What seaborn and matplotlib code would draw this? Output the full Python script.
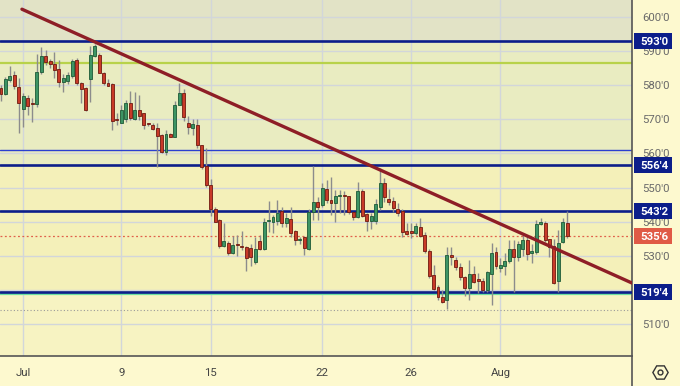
import matplotlib
matplotlib.use("Agg")
import matplotlib.pyplot as plt
from matplotlib.patches import Rectangle
import seaborn as sns
import numpy as np
import pandas as pd

# ---------------- data ----------------
opens = [579.3, 577.3, 581.5, 583.0, 579.6, 573.0, 576.2, 574.6, 574.4, 583.8,
         588.7, 587.1, 586.1, 584.7, 581.0, 581.3, 582.8, 587.4, 580.7, 579.3,
         581.7, 588.6, 588.9, 583.7, 580.8, 580.3, 569.9, 569.0, 570.0, 574.7,
         570.0, 572.7, 571.8, 568.6, 568.3, 567.4, 565.4, 560.5, 565.6, 564.9,
         574.2, 577.8, 569.0, 567.6, 568.3, 562.5, 556.3, 550.7, 543.6, 540.5,
         532.8, 533.8, 530.9, 533.2, 533.0, 532.6, 532.2, 528.2, 534.4, 532.0,
         540.2, 540.0, 540.3, 543.1, 539.5, 540.8, 537.3, 534.6, 535.4, 531.9,
         542.9, 545.8, 544.9, 549.5, 546.3, 545.5, 547.6, 547.6, 547.6, 542.9,
         541.4, 549.1, 542.1, 540.2, 540.2, 544.2, 551.4, 546.5, 546.1, 543.6,
         543.1, 537.3, 536.9, 536.8, 538.3, 536.1, 531.5, 524.5, 520.9, 518.0,
         517.0, 530.2, 528.7, 526.6, 523.9, 520.4, 524.6, 523.1, 522.7, 520.1,
         524.6, 531.2, 526.5, 527.1, 528.5, 532.0, 529.7, 531.9, 534.6, 530.7,
         531.2, 539.3, 539.7, 534.8, 532.8, 522.6, 534.1, 539.7]
highs = [580.0, 582.3, 585.7, 584.3, 582.2, 577.6, 577.1, 576.2, 589.1, 591.3,
         590.3, 587.7, 589.8, 587.4, 583.2, 584.0, 587.7, 588.1, 581.0, 579.4,
         591.5, 592.1, 589.5, 584.0, 581.8, 580.6, 571.8, 574.2, 575.7, 578.3,
         578.1, 577.1, 572.0, 569.0, 569.0, 569.0, 565.8, 566.9, 566.0, 575.5,
         580.6, 578.9, 571.0, 570.0, 570.0, 562.5, 561.5, 552.4, 544.3, 540.8,
         539.5, 534.2, 535.8, 536.1, 537.4, 532.8, 533.5, 535.6, 536.1, 541.0,
         546.1, 542.0, 546.3, 544.4, 542.5, 544.4, 537.5, 535.5, 535.8, 543.6,
         556.3, 547.3, 551.2, 552.2, 553.2, 549.3, 549.3, 549.0, 547.6, 542.9,
         551.7, 549.6, 542.4, 542.4, 546.6, 555.6, 552.7, 549.5, 547.3, 545.5,
         543.6, 539.5, 539.5, 539.5, 541.0, 537.0, 532.0, 527.3, 521.4, 520.1,
         532.6, 532.6, 529.6, 527.8, 524.1, 528.7, 526.9, 525.0, 523.5, 525.4,
         533.8, 532.5, 529.2, 530.7, 534.6, 534.6, 534.2, 536.2, 535.9, 533.4,
         540.5, 541.0, 540.3, 535.0, 535.0, 537.5, 541.0, 543.0]
lows = [575.4, 577.1, 581.0, 578.9, 565.9, 567.8, 571.3, 569.1, 573.7, 583.2,
        585.9, 585.0, 582.0, 579.6, 578.1, 580.3, 582.0, 580.1, 574.7, 572.5,
        575.2, 588.4, 583.5, 580.1, 579.7, 566.9, 568.3, 568.8, 569.3, 569.8,
        569.8, 569.8, 567.2, 568.0, 566.9, 556.1, 560.2, 559.5, 564.9, 564.9,
        574.2, 569.6, 565.7, 565.5, 561.7, 555.3, 550.2, 541.6, 539.8, 532.4,
        532.6, 530.2, 530.5, 529.9, 531.7, 525.5, 527.0, 527.5, 531.7, 531.7,
        537.0, 536.7, 539.0, 538.5, 538.5, 535.6, 533.1, 533.5, 530.2, 531.7,
        540.5, 540.5, 544.4, 545.4, 541.9, 540.0, 542.4, 542.0, 542.3, 540.5,
        541.0, 541.3, 537.2, 537.7, 539.4, 543.4, 545.8, 544.9, 542.9, 541.6,
        535.6, 536.1, 535.1, 536.1, 535.6, 530.8, 523.5, 519.9, 517.0, 516.0,
        514.3, 527.3, 525.9, 523.0, 518.2, 517.0, 522.1, 519.0, 519.4, 519.5,
        515.5, 526.1, 525.3, 524.3, 528.0, 519.4, 528.5, 529.8, 528.8, 527.9,
        530.5, 539.0, 534.1, 529.5, 521.6, 519.5, 533.6, 535.1]
closes = [577.3, 581.7, 582.8, 579.8, 574.7, 576.9, 574.0, 574.4, 584.0, 588.7,
          586.7, 586.1, 584.5, 581.0, 582.0, 583.0, 587.1, 580.6, 578.9, 572.7,
          588.9, 591.5, 583.7, 580.7, 579.9, 569.6, 569.8, 572.7, 574.7, 570.3,
          572.7, 571.0, 568.3, 568.5, 567.1, 565.1, 560.5, 565.6, 564.9, 574.2,
          577.8, 570.8, 567.8, 568.6, 562.5, 556.1, 550.7, 543.6, 540.0, 532.8,
          534.3, 530.7, 533.1, 533.1, 532.6, 529.3, 529.7, 532.0, 532.0, 540.0,
          540.2, 541.4, 542.4, 539.5, 541.1, 536.7, 534.6, 534.8, 532.2, 542.9,
          545.8, 544.2, 549.8, 546.3, 545.5, 547.6, 547.7, 547.5, 542.7, 541.3,
          549.1, 541.7, 540.2, 541.7, 545.2, 551.4, 547.1, 545.8, 543.9, 542.4,
          537.0, 536.4, 536.8, 538.7, 535.9, 531.5, 524.0, 520.2, 518.0, 516.5,
          530.1, 529.7, 526.8, 523.7, 520.4, 524.6, 522.4, 522.6, 519.9, 525.3,
          530.9, 527.1, 527.3, 528.5, 532.0, 529.5, 533.4, 534.6, 530.5, 531.5,
          539.3, 540.0, 534.6, 532.6, 522.1, 533.8, 540.0, 535.75]

tick_pos = [5, 27, 47, 72, 92, 112]
tick_labels = ["Jul", "9", "15", "22", "26", "Aug"]
price_ticks = [510, 520, 530, 540, 550, 560, 570, 580, 590, 600]
hidden_ticks = [520]          # covered by the 519'4 marker in the reference

level_lines = [593.0, 556.5, 543.25, 519.5]
last_price = 535.75
trend_x = [4.7, 141.5]
trend_y = [602.3, 522.0]


def fmt(p):
    whole = int(np.floor(p + 1e-9))
    eighth = int(round((p - whole) * 8))
    return f"{whole}'{eighth}"


# ---------------- style ----------------
sns.set_theme(style="white")
plt.rcParams['font.family'] = ['Roboto', 'DejaVu Sans']

W, H = 680, 386
fig = plt.figure(figsize=(W / 100, H / 100), dpi=100)
fig.patch.set_facecolor("#fdf9cf")

ax = fig.add_axes([0, 30 / H, 632 / W, 356 / H])
ax.set_facecolor("#f6f2bd")

xmin, xmax = -0.22, 141.5
ymin, ymax = 500.6, 605.0
ax.set_xlim(xmin, xmax)
ax.set_ylim(ymin, ymax)

# background bands
ax.axhspan(593.0, ymax, color="#e2e3c6", zorder=0, lw=0)
ax.axhspan(556.5, 593.0, color="#e9ecc1", zorder=0, lw=0)
ax.axhspan(519.5, 556.5, color="#f4f0b9", zorder=0, lw=0)
ax.axhspan(ymin, 519.5, color="#f7f3c2", zorder=0, lw=0)

# grid
for p in price_ticks:
    ax.axhline(p, color="#d2d6da", lw=1.0, zorder=1)
for t in tick_pos:
    ax.axvline(t, color="#d2d6da", lw=1.0, zorder=1)

# extra lines
ax.axhline(586.5, color="#b8d24a", lw=1.6, zorder=2)
ax.axhline(561.0, color="#2b3fd0", lw=1.0, zorder=2)
ax.axhline(518.9, color="#6ee0a0", lw=1.6, zorder=2)
ax.axhline(514.2, color="#9a9a9a", lw=0.8, ls=(0, (1, 2)), zorder=2)
for lv in level_lines:
    ax.axhline(lv, color="#0c1e8a", lw=1.9, zorder=3)
ax.axhline(last_price, color="#e0604a", lw=0.9, ls=(0, (1.5, 2)), zorder=3)

# candles
x = np.arange(len(opens))
o = np.array(opens); h = np.array(highs); l = np.array(lows); c = np.array(closes)
up = c >= o
ax.vlines(x, l, h, color="#8c8c8c", lw=1.0, zorder=4)
body_lo = np.minimum(o, c)
body_h = np.maximum(np.abs(c - o), 0.35)
ax.bar(x[up], body_h[up], bottom=body_lo[up], width=0.66,
       color="#3d9464", edgecolor="#1d5a36", linewidth=0.6, zorder=5)
ax.bar(x[~up], body_h[~up], bottom=body_lo[~up], width=0.66,
       color="#c83a28", edgecolor="#701a10", linewidth=0.6, zorder=5)

# trend line
tdf = pd.DataFrame({"x": trend_x, "y": trend_y})
sns.lineplot(data=tdf, x="x", y="y", ax=ax, color="#8e1e26", lw=2.4, zorder=6)
ax.set_xlabel(""); ax.set_ylabel("")

# axes / ticks
ax.set_xticks(tick_pos)
ax.set_xticklabels(tick_labels)
ax.yaxis.tick_right()
ax.set_yticks(price_ticks)
ax.set_yticklabels(["" if p in hidden_ticks else fmt(p) for p in price_ticks])
ax.tick_params(axis="y", length=0, pad=7.3, labelsize=8.2, labelcolor="#6a6a6a")
ax.tick_params(axis="x", length=0, pad=9, labelsize=8.2, labelcolor="#444444")
for s in ["top", "left"]:
    ax.spines[s].set_visible(False)
ax.spines["right"].set_color("#555555")
ax.spines["bottom"].set_color("#555555")
ax.spines["right"].set_linewidth(1.2)
ax.spines["bottom"].set_linewidth(1.2)

# overlay panel for price markers (x in pixels of the right scale)
axr = fig.add_axes([632 / W, 30 / H, 48 / W, 356 / H])
axr.set_xlim(0, 48)
axr.set_ylim(ymin, ymax)
axr.axis("off")
axr.patch.set_alpha(0)
px_per_unit = 356 / (ymax - ymin)
box_h = 16 / px_per_unit


def marker(price, color):
    axr.add_patch(Rectangle((1.5, price - box_h / 2), 38.5, box_h,
                            facecolor=color, edgecolor="none", clip_on=False))
    axr.text(22.0, price, fmt(price), ha="center", va="center_baseline",
             fontsize=8.2, color="white", fontweight="bold", clip_on=False)


for lv in level_lines:
    marker(lv, "#0c1e8a")
marker(last_price, "#e05a46")

# right panel divider continuing into bottom area
fig.add_artist(plt.Line2D([632 / W, 632 / W], [0, 30 / H], color="#555555", lw=1.2))

# settings icon
fig.add_artist(plt.Line2D([660 / W], [1 - 372 / H], marker="H", markersize=11,
                          markerfacecolor="none", markeredgecolor="#333333", mew=1.0))
fig.add_artist(plt.Line2D([660 / W], [1 - 372 / H], marker="o", markersize=3.5,
                          markerfacecolor="none", markeredgecolor="#333333", mew=1.0))

fig.savefig("out.png", dpi=100, facecolor=fig.get_facecolor())
